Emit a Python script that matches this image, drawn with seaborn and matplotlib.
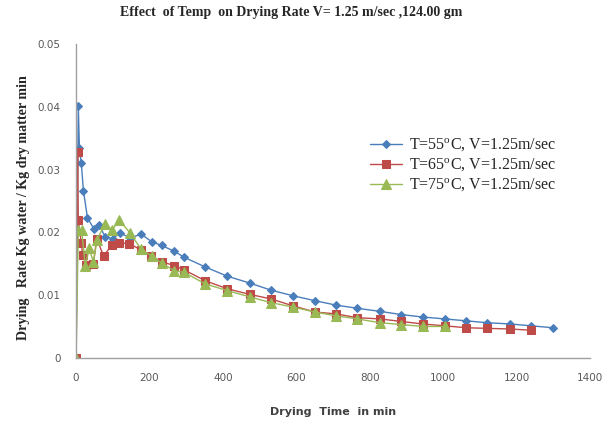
import pandas as pd
import matplotlib
matplotlib.use('Agg')
import matplotlib.pyplot as plt
import seaborn as sns

# Drying time (min) and drying rate (kg water / kg dry matter min)
t55 = [0, 6, 9, 14, 20, 31, 49, 63, 79, 100, 120, 147, 177, 206, 233, 267, 295, 351, 412,
       474, 530, 590, 651, 708, 766, 828, 886, 944, 1005, 1062, 1119, 1181, 1240, 1298]
r55 = [0, 0.0401, 0.0334, 0.0311, 0.0266, 0.0223, 0.0205, 0.0211, 0.0193, 0.0190, 0.0199,
       0.0191, 0.0197, 0.0185, 0.0179, 0.0170, 0.0160, 0.0145, 0.0130, 0.0119, 0.0108,
       0.0099, 0.0091, 0.0084, 0.0079, 0.0074, 0.0069, 0.0065, 0.0062, 0.0059, 0.0056,
       0.0054, 0.0051, 0.0048]

t65 = [0, 4, 6, 14, 18, 27, 47, 56, 75, 97, 118, 145, 176, 204, 234, 267, 295, 351, 412,
       474, 530, 590, 651, 708, 766, 828, 886, 944, 1005, 1062, 1119, 1181, 1240]
r65 = [0, 0.0328, 0.0219, 0.0183, 0.0164, 0.0148, 0.0149, 0.0190, 0.0162, 0.0180, 0.0183,
       0.0182, 0.0172, 0.0162, 0.0153, 0.0147, 0.0140, 0.0123, 0.0110, 0.0101, 0.0094,
       0.0083, 0.0073, 0.0070, 0.0064, 0.0062, 0.0058, 0.0054, 0.0051, 0.0048, 0.0047,
       0.0046, 0.0044]

t75 = [0, 6, 15, 25, 36, 47, 57, 78, 98, 118, 147, 177, 206, 233, 267, 295, 351, 412,
       474, 530, 590, 651, 708, 766, 828, 886, 944, 1005]
r75 = [0, 0.0203, 0.0203, 0.0147, 0.0175, 0.0152, 0.0188, 0.0213, 0.0204, 0.0219, 0.0199,
       0.0173, 0.0162, 0.0151, 0.0139, 0.0136, 0.0118, 0.0107, 0.0097, 0.0088, 0.0081,
       0.0073, 0.0067, 0.0062, 0.0056, 0.0053, 0.0050, 0.0050]

labels = [r'T=55$^\mathregular{o}$C, V=1.25m/sec',
          r'T=65$^\mathregular{o}$C, V=1.25m/sec',
          r'T=75$^\mathregular{o}$C, V=1.25m/sec']
colors = ['#4a7ebb', '#be4b48', '#98b954']
markers = ['D', 's', '^']
msizes = [4.5, 6, 6.5]

sns.set_style('white')
plt.rcParams['font.family'] = ['DejaVu Sans']

fig = plt.figure(figsize=(6.04, 4.23), dpi=100)
ax = fig.add_axes([0.126, 0.154, 0.851, 0.742])

for t, r, lab, c, m, ms in zip([t55, t65, t75], [r55, r65, r75], labels, colors, markers, msizes):
    df = pd.DataFrame({'t': t, 'r': r})
    sns.lineplot(data=df, x='t', y='r', sort=False, ax=ax, color=c, lw=1.0,
                 marker=m, markersize=ms, markeredgecolor=c, label=lab)

ax.set_xlim(0, 1400)
ax.set_ylim(0, 0.05)
ax.set_xticks(range(0, 1401, 200))
ax.set_yticks([0, 0.01, 0.02, 0.03, 0.04, 0.05])
ax.set_yticklabels(['0', '0.01', '0.02', '0.03', '0.04', '0.05'])
ax.tick_params(axis='both', length=0, labelsize=7.5, labelcolor='#595959', pad=11)

for s in ['top', 'right']:
    ax.spines[s].set_visible(False)
for s in ['left', 'bottom']:
    ax.spines[s].set_color('#a0a0a0')
    ax.spines[s].set_linewidth(1)

ax.set_xlabel('Drying  Time  in min', fontsize=8, fontweight='bold', color='#404040', labelpad=17)
ax.set_ylabel('Drying   Rate Kg water / Kg dry matter min', fontsize=10.2, fontweight='bold',
              family='Liberation Serif')
ax.yaxis.set_label_coords(-0.09, 0.48)
fig.suptitle('Effect  of Temp  on Drying Rate V= 1.25 m/sec ,124.00 gm', x=0.482, y=0.985,
             fontsize=10, fontweight='bold', family='Liberation Serif')

ax.legend(loc='upper left', bbox_to_anchor=(0.56, 0.725), frameon=False,
          prop={'family': 'Liberation Serif', 'size': 11.5}, handlelength=2.0,
          handletextpad=0.4, labelspacing=0.15, borderaxespad=0)

fig.savefig('out.png', dpi=100)
